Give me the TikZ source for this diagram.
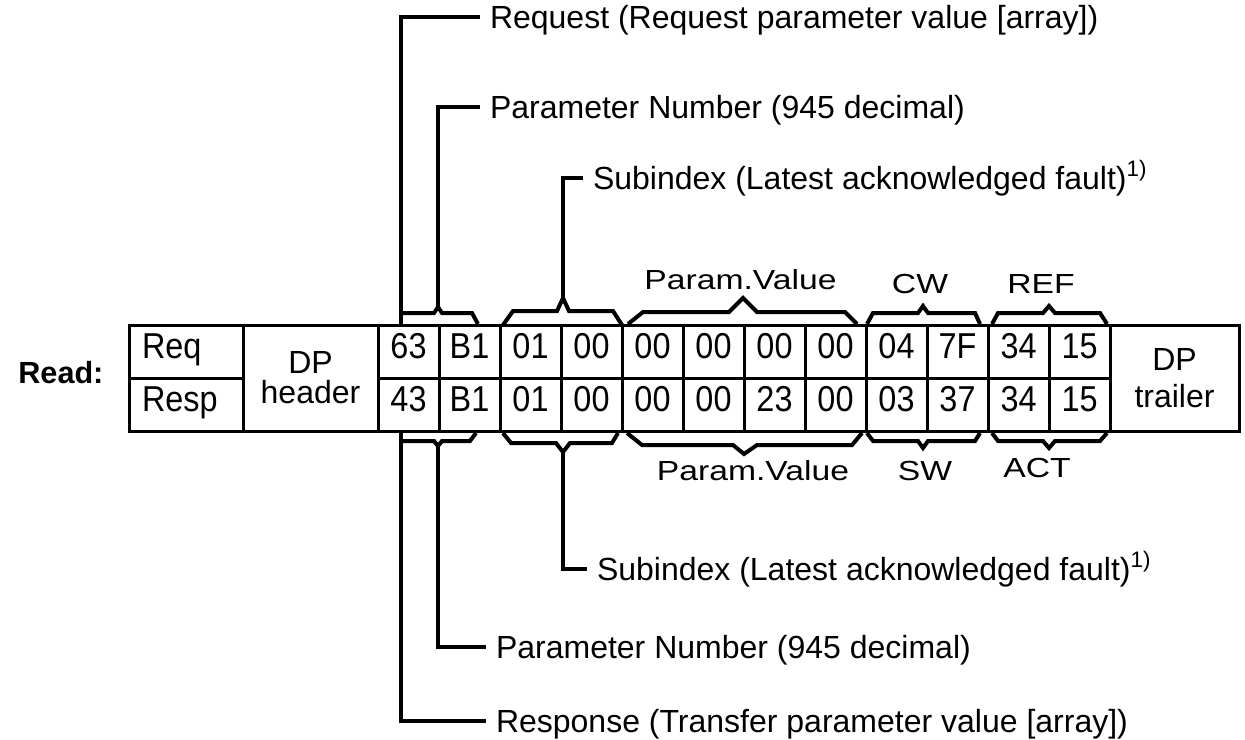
\documentclass[tikz,border=0pt]{standalone}
\usepackage{fontspec}
\setmainfont{Liberation Sans}
\newfontfamily\cellfont[FakeStretch=0.9]{Liberation Sans}
\newfontfamily\widefont[FakeStretch=1.22]{Liberation Sans}
\usepackage{tikz}
\usetikzlibrary{positioning}

\tikzset{
  cellbox/.style={draw,line width=1.5pt,inner sep=0pt},
  byte/.style={cellbox,minimum width=30.5pt,minimum height=26.5pt,
    font=\cellfont\fontsize{18}{20}\selectfont,text height=13.5pt,text depth=7pt},
  bracepath/.style={line width=2pt},
  lead/.style={line width=2.3pt},
  fieldlbl/.style={anchor=west,inner sep=0pt,outer sep=5pt,text height=11.5pt,text depth=0pt,
    font=\fontsize{16}{19}\selectfont},
  grouplbl/.style={inner sep=0pt,text height=10pt,text depth=0pt,font=\widefont\fontsize{13.8}{16}\selectfont}
}

\begin{document}
\begin{tikzpicture}[x=0.5pt,y=-0.5pt]
  \useasboundingbox (0,0) rectangle (1245,739);
  \node[anchor=base west,inner sep=0pt,font=\bfseries\fontsize{15.3}{17}\selectfont] (read) at (18,383) {Read:};
  % frame
  \node[byte,minimum width=57pt,text width=44pt,align=left,inner xsep=6.5pt] (req) at (186,351.5) {Req};
  \node[byte,minimum width=57pt,text width=44pt,align=left,inner xsep=6.5pt] (resp) at (186,404.5) {Resp};
  \node[cellbox,minimum width=67.5pt,minimum height=53pt,align=center,font=\fontsize{16}{15}\selectfont] (hdr) at (310.5,378) {DP\\header};
  \foreach \v [count=\i] in {63,B1,01,00,00,00,00,00,04,7F,34,15}
    \node[byte] (q\i) at (347.5+61*\i,351.5) {\v};
  \foreach \v [count=\i] in {43,B1,01,00,00,00,23,00,03,37,34,15}
    \node[byte] (s\i) at (347.5+61*\i,404.5) {\v};
  \node[cellbox,minimum width=64.5pt,minimum height=53pt,align=center,font=\fontsize{16}{18.5}\selectfont] (trl) at (1174.5,378) {DP\\trailer};
  % braces above
  \draw[bracepath] (401,313) -- (434,313) -- (438,307) -- (442,313) -- (472,313) -- (478,324);
  \draw[bracepath] (503,325) -- (513,311) -- (557,311) -- (563,298) -- (569,311) -- (613,311) -- (622,325);
  \draw[bracepath] (628,324) -- (643,312) -- (729,312) -- (743,298) -- (757,312) -- (845,312) -- (857,324);
  \draw[bracepath] (867,324) -- (873,313) -- (918,313) -- (923,306) -- (928,313) -- (975,313) -- (980,324);
  \draw[bracepath] (992,324) -- (998,313) -- (1043,313) -- (1049,306) -- (1055,313) -- (1100,313) -- (1107,324);
  % braces below
  \draw[bracepath] (401,441) -- (434,441) -- (438,446) -- (442,441) -- (470,441) -- (476,433);
  \draw[bracepath] (503,433) -- (511,443) -- (556,443) -- (563,452) -- (570,443) -- (612,443) -- (618,433);
  \draw[bracepath] (627,433) -- (642,445) -- (733,445) -- (744,454) -- (757,445) -- (852,445) -- (862,433);
  \draw[bracepath] (867,433) -- (873,441) -- (918,441) -- (923,448) -- (928,441) -- (975,441) -- (980,433);
  \draw[bracepath] (992,433) -- (998,441) -- (1043,441) -- (1049,448) -- (1055,441) -- (1100,441) -- (1107,433);
  % group names
  \node[grouplbl] (pvq) at (740.5,279) {Param.Value};
  \node[grouplbl] (cw) at (920,283.5) {CW};
  \node[grouplbl] (ref) at (1041,283.5) {REF};
  \node[grouplbl] (pvs) at (753,470.5) {Param.Value};
  \node[grouplbl] (sw) at (925,470.5) {SW};
  \node[grouplbl] (act) at (1037,467.5) {ACT};
  % brace tips
  \coordinate (rq) at (401,325);
  \coordinate (pq) at (438,307);
  \coordinate (sq) at (563,298);
  \coordinate (rs) at (401,432);
  \coordinate (ps) at (438,446);
  \coordinate (ss) at (563,452);
  % field descriptions
  \node[fieldlbl] (lreq) at (480,17) {Request (Request parameter value [array])};
  \node[fieldlbl] (lpnq) at (480,107) {Parameter Number (945 decimal)};
  \node[fieldlbl] (lsubq) at (583,178) {Subindex (Latest acknowledged fault)\textsuperscript{1)}};
  \node[fieldlbl] (lsubs) at (587,569) {Subindex (Latest acknowledged fault)\textsuperscript{1)}};
  \node[fieldlbl] (lpns) at (486,647) {Parameter Number (945 decimal)};
  \node[fieldlbl] (lresp) at (486,721) {Response (Transfer parameter value [array])};
  \draw[lead] (rq) |- (lreq);
  \draw[lead] (pq) |- (lpnq);
  \draw[lead] (sq) |- (lsubq);
  \draw[lead] (rs) |- (lresp);
  \draw[lead] (ps) |- (lpns);
  \draw[lead] (ss) |- (lsubs);
\end{tikzpicture}
\end{document}
